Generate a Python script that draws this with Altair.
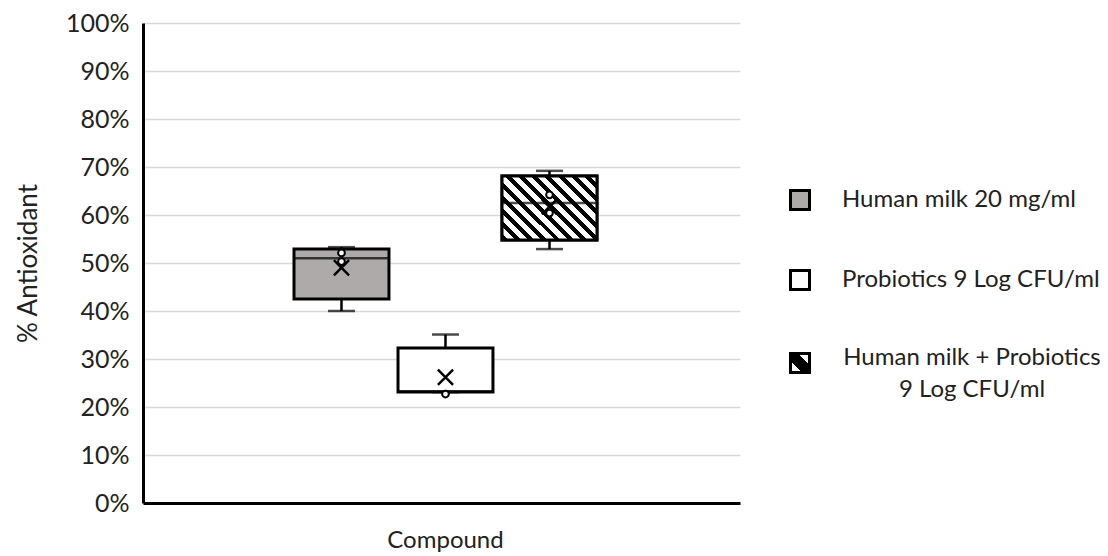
import altair as alt
import pandas as pd

# ---------------- data ----------------
category = "Compound"
series = ["Human milk 20 mg/ml", "Probiotics 9 Log CFU/ml", "Human milk + Probiotics 9 Log CFU/ml"]
legend_lines = [["Human milk 20 mg/ml"], ["Probiotics 9 Log CFU/ml"], ["Human milk + Probiotics", "9 Log CFU/ml"]]
box_fill = ["#aeaaaa", "#ffffff", "#ffffff"]
whisker_low = [0.400, 0.231, 0.529]
q1 = [0.425, 0.231, 0.548]
median = [0.510, 0.233, 0.625]
q3 = [0.529, 0.323, 0.681]
whisker_high = [0.533, 0.351, 0.692]
mean = [0.490, 0.262, 0.617]
point_series = [series[0], series[0], series[1], series[2], series[2]]
point_values = [0.521, 0.503, 0.227, 0.642, 0.604]
y_ticks = [0.0, 0.1, 0.2, 0.3, 0.4, 0.5, 0.6, 0.7, 0.8, 0.9, 1.0]

boxes = pd.DataFrame({
    "compound": [category] * 3,
    "series": series,
    "low": whisker_low, "q1": q1, "median": median, "q3": q3,
    "high": whisker_high, "mean": mean,
})
points = pd.DataFrame({"compound": [category] * len(point_values),
                       "series": point_series, "value": point_values})

FONT = "Lato"
W, H = 597, 480


def stripes(x1, y1, x2, y2, n, frac=0.5, start_black=True):
    stops = []
    for k in range(n):
        a, b, c = k / n, (k + frac) / n, (k + 1) / n
        c1, c2 = ("#000000", "#ffffff") if start_black else ("#ffffff", "#000000")
        stops += [{"offset": a, "color": c1}, {"offset": b, "color": c1},
                  {"offset": b, "color": c2}, {"offset": c, "color": c2}]
    return {"gradient": "linear", "x1": x1, "y1": y1, "x2": x2, "y2": y2, "stops": stops}


# hatch for the box (approx 95 x 64 px) so that stripes run at 45 degrees
r = 64 / 95
s = (1 + r) / (1 + r * r)
box_hatch = stripes(0, 1, s, 1 - s * r, 12, 0.45)
legend_hatch = {"gradient": "linear", "x1": 0, "y1": 1, "x2": 1, "y2": 0, "stops": [
    {"offset": 0.0, "color": "#ffffff"}, {"offset": 0.3, "color": "#ffffff"},
    {"offset": 0.3, "color": "#000000"}, {"offset": 0.7, "color": "#000000"},
    {"offset": 0.7, "color": "#ffffff"}, {"offset": 1.0, "color": "#ffffff"}]}

x_enc = alt.X("compound:N", title=None,
              scale=alt.Scale(paddingInner=0, paddingOuter=0.4567, align=0.514),
              axis=alt.Axis(labelFontSize=24, labelColor="#222222", labelAngle=0,
                            labelPadding=25, ticks=False, grid=False,
                            domainColor="#000000", domainWidth=3, labelFont=FONT))
xo_enc = alt.XOffset("series:N", sort=series,
                     scale=alt.Scale(domain=series, paddingInner=0.087, paddingOuter=0.0435))
y_scale = alt.Scale(domain=[0, 1], nice=False)
y_axis = alt.Axis(values=y_ticks, format=".0%", labelFontSize=25, labelColor="#222222",
                  labelPadding=14, ticks=False, grid=True, gridColor="#d9d9d9", gridWidth=1.5,
                  domainColor="#000000", domainWidth=3, title="% Antioxidant",
                  titleFontSize=26, titleFontWeight="normal", titleColor="#222222",
                  titlePadding=24, labelFont=FONT, titleFont=FONT)

base = alt.Chart(boxes).encode(x=x_enc, xOffset=xo_enc)

box = base.mark_bar(stroke="#000000", strokeWidth=3).encode(
    y=alt.Y("q1:Q", scale=y_scale, axis=y_axis),
    y2="q3:Q",
    fill=alt.Fill("series:N", scale=alt.Scale(domain=series, range=box_fill), legend=None),
)
hatch = base.transform_filter(alt.datum.series == series[2]).mark_bar(
    fill=box_hatch, stroke="#000000", strokeWidth=3).encode(y="q1:Q", y2="q3:Q")
med = base.mark_tick(color="#000000", thickness=2.5, size=95).encode(y="median:Q")
whisk_up = base.mark_rule(color="#000000", strokeWidth=2.5).encode(y="q3:Q", y2="high:Q")
whisk_dn = base.mark_rule(color="#000000", strokeWidth=2.5).encode(y="low:Q", y2="q1:Q")
cap_up = base.mark_tick(color="#000000", thickness=2.5, size=27).encode(y="high:Q")
cap_dn = base.mark_tick(color="#000000", thickness=2.5, size=27).encode(y="low:Q")
mean_x = base.mark_point(shape="M-1,-1L1,1M-1,1L1,-1", size=230, stroke="#000000",
                         strokeWidth=2.5, filled=False, opacity=1).encode(y="mean:Q")
pts = alt.Chart(points).mark_point(shape="circle", size=45, fill="#ffffff", stroke="#000000",
                                   strokeWidth=2, filled=True, opacity=1).encode(
    x=x_enc, xOffset=xo_enc, y="value:Q")

# ---------------- manual legend ----------------
one = alt.Data(values=[{"k": 0}])
LX, TX = 657, 699
leg_y = [177, 257, 340]
legend_layers = []
for i in range(3):
    fill = box_fill[i] if i < 2 else legend_hatch
    legend_layers.append(
        alt.Chart(one).mark_square(size=361, fill=fill, stroke="#000000", strokeWidth=3,
                                   opacity=1).encode(x=alt.value(LX), y=alt.value(leg_y[i])))
legend_layers.append(alt.Chart(one).mark_text(text=legend_lines[0], align="left", baseline="middle",
                                              fontSize=24, font=FONT, color="#222222").encode(
    x=alt.value(TX), y=alt.value(leg_y[0])))
legend_layers.append(alt.Chart(one).mark_text(text=legend_lines[1], align="left", baseline="middle",
                                              fontSize=24, font=FONT, color="#222222").encode(
    x=alt.value(TX), y=alt.value(leg_y[1])))
legend_layers.append(alt.Chart(one).mark_text(text=legend_lines[2], align="center", baseline="middle",
                                              fontSize=24, font=FONT, color="#222222",
                                              lineHeight=32).encode(
    x=alt.value(829), y=alt.value(335)))

chart = alt.layer(box, hatch, med, whisk_up, whisk_dn, cap_up, cap_dn, mean_x, pts,
                  *legend_layers).properties(
    width=W, height=H,
    autosize=alt.AutoSizeParams(type="none"),
    padding={"left": 143, "top": 23, "right": 368, "bottom": 53},
    background="#ffffff",
).configure(font=FONT).configure_view(stroke=None)

chart.save("out.html", embed_options={"renderer": "svg", "actions": False})
